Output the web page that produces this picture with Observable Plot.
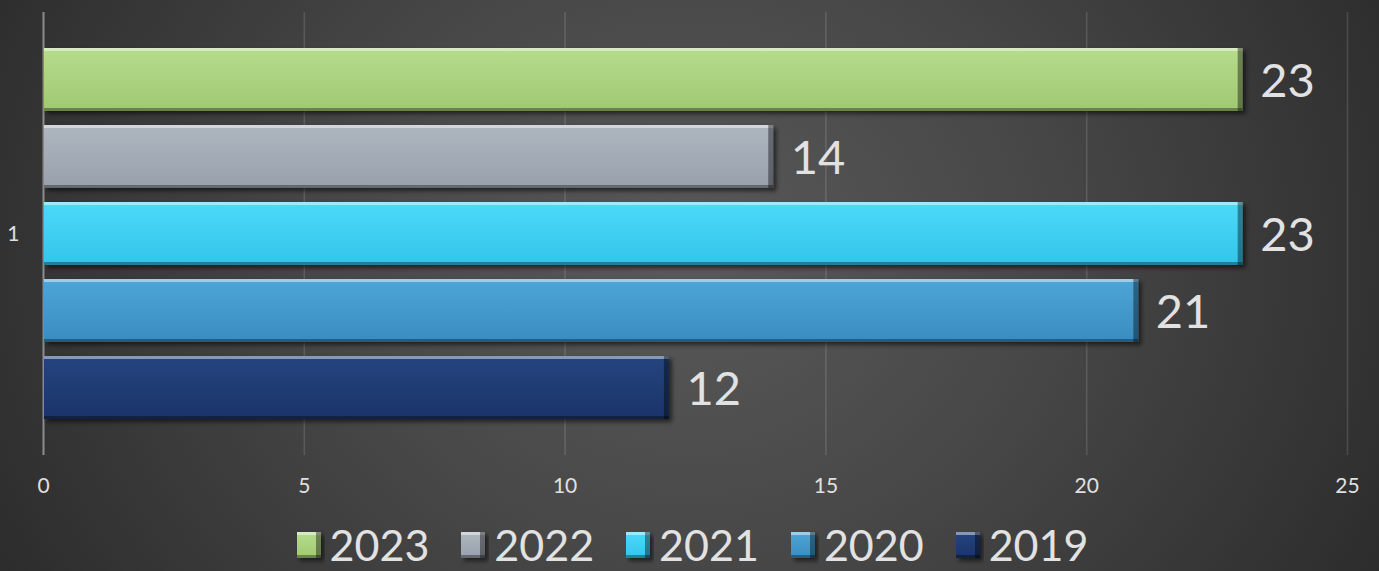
<!DOCTYPE html>
<html>
<head>
<meta charset="utf-8">
<script src="https://cdn.jsdelivr.net/npm/d3@7"></script>
<script src="https://cdn.jsdelivr.net/npm/@observablehq/plot@0.6"></script>
<style>
  html, body { margin: 0; padding: 0; }
  body {
    width: 1379px; height: 571px; overflow: hidden;
    background: radial-gradient(ellipse 58% 120% at 50% 45%, #595959 0%, #474747 45%, #2b2b2b 100%);
    font-family: "Gill Sans MT", "Gill Sans", Lato, "Open Sans", sans-serif;
  }
  #legend {
    display: flex; justify-content: center; align-items: center;
    height: 56px; gap: 32px; color: #e2e2e2; font-size: 43px; line-height: 44px;
    padding-left: 6px; padding-top: 4px; box-sizing: border-box;
  }
  #legend .item { display: flex; align-items: center; gap: 9px; }
  #legend svg { overflow: visible; display: block; }
</style>
</head>
<body>
<svg width="0" height="0" style="position:absolute">
  <defs id="defs"></defs>
</svg>
<div id="chart"></div>
<div id="legend"></div>
<script>
// ---- data ----
const category = "1";
const years = [2023, 2022, 2021, 2020, 2019];
const values = [23, 14, 23, 21, 12];
const xTicks = [0, 5, 10, 15, 20, 25];

// ---- style (not data) ----
const gradTop = ["#b6dc8c", "#aeb6c0", "#4cdaf9", "#4da6d8", "#25447f"];
const gradBottom = ["#a0c872", "#98a0ab", "#33c4ea", "#3a8cc0", "#1a3469"];

const data = years.map((y, i) => ({cat: category, year: String(y), value: values[i]}));

// defs: gradients + bevel filter
const defs = document.getElementById("defs");
let html = "";
years.forEach((y, i) => {
  html += `<linearGradient id="g${y}" x1="0" y1="0" x2="0" y2="1">
    <stop offset="0" stop-color="${gradTop[i]}"/>
    <stop offset="1" stop-color="${gradBottom[i]}"/>
  </linearGradient>`;
});
html += `<filter id="bevel" x="-10%" y="-40%" width="125%" height="190%" color-interpolation-filters="sRGB">
  <feGaussianBlur in="SourceAlpha" stdDeviation="2" result="blur"/>
  <feOffset in="blur" dx="3" dy="3" result="offBlur"/>
  <feComponentTransfer in="offBlur" result="shadow"><feFuncA type="linear" slope="0.55"/></feComponentTransfer>
  <feOffset in="SourceAlpha" dy="3" result="sDown"/>
  <feComposite in="SourceAlpha" in2="sDown" operator="out" result="topEdge"/>
  <feFlood flood-color="#ffffff" flood-opacity="0.45"/>
  <feComposite in2="topEdge" operator="in" result="topHi"/>
  <feOffset in="SourceAlpha" dy="-3" result="sUp"/>
  <feComposite in="SourceAlpha" in2="sUp" operator="out" result="botEdge"/>
  <feFlood flood-color="#000000" flood-opacity="0.35"/>
  <feComposite in2="botEdge" operator="in" result="botDk"/>
  <feOffset in="SourceAlpha" dx="-5" result="sLeft"/>
  <feComposite in="SourceAlpha" in2="sLeft" operator="out" result="rEdge"/>
  <feFlood flood-color="#000000" flood-opacity="0.4"/>
  <feComposite in2="rEdge" operator="in" result="rDk"/>
  <feMerge>
    <feMergeNode in="shadow"/>
    <feMergeNode in="SourceGraphic"/>
    <feMergeNode in="topHi"/>
    <feMergeNode in="botDk"/>
    <feMergeNode in="rDk"/>
  </feMerge>
</filter>`;
defs.innerHTML = html;

const font = '"Gill Sans MT", "Gill Sans", Lato, "Open Sans", sans-serif';

const chart = Plot.plot({
  width: 1379,
  height: 515,
  marginLeft: 43,
  marginRight: 32,
  marginTop: 12,
  marginBottom: 60,
  style: {background: "transparent", color: "#e0e0e0", fontFamily: font, overflow: "visible"},
  x: {domain: [0, 25], ticks: xTicks},
  y: {domain: years.map(String), paddingInner: 0.185, paddingOuter: 0.45, axis: null},
  fy: {domain: [category], padding: 0},
  color: {type: "identity"},
  marks: [
    Plot.ruleX(xTicks.filter(t => t > 0), {stroke: "#ffffff", strokeOpacity: 0.13, strokeWidth: 1.6}),
    Plot.ruleX([0], {stroke: "#8c8c8c", strokeWidth: 2}),
    Plot.barX(data, {x: "value", y: "year", fy: "cat", fill: d => `url(#g${d.year})`, insetLeft: 1}),
    Plot.text(data, {x: "value", y: "year", fy: "cat", text: d => String(d.value), dx: 17, dy: 2,
      textAnchor: "start", fontSize: 47, fill: "#e2e2e2"}),
    Plot.axisX({ticks: xTicks, tickSize: 0, tickPadding: 23, fontSize: 21, color: "#e0e0e0", label: null}),
    Plot.axisFy({anchor: "left", tickSize: 0, tickPadding: 24, fontSize: 21, color: "#e0e0e0", label: null})
  ]
});
chart.querySelectorAll('g[aria-label="bar"] rect').forEach(r => r.setAttribute("filter", "url(#bevel)"));
document.getElementById("chart").appendChild(chart);

// legend
const legend = document.getElementById("legend");
years.forEach(y => {
  const item = document.createElement("div");
  item.className = "item";
  item.innerHTML = `<svg width="24" height="26"><rect width="24" height="26" fill="url(#g${y})" filter="url(#bevel)"/></svg><span>${y}</span>`;
  legend.appendChild(item);
});
</script>
</body>
</html>
